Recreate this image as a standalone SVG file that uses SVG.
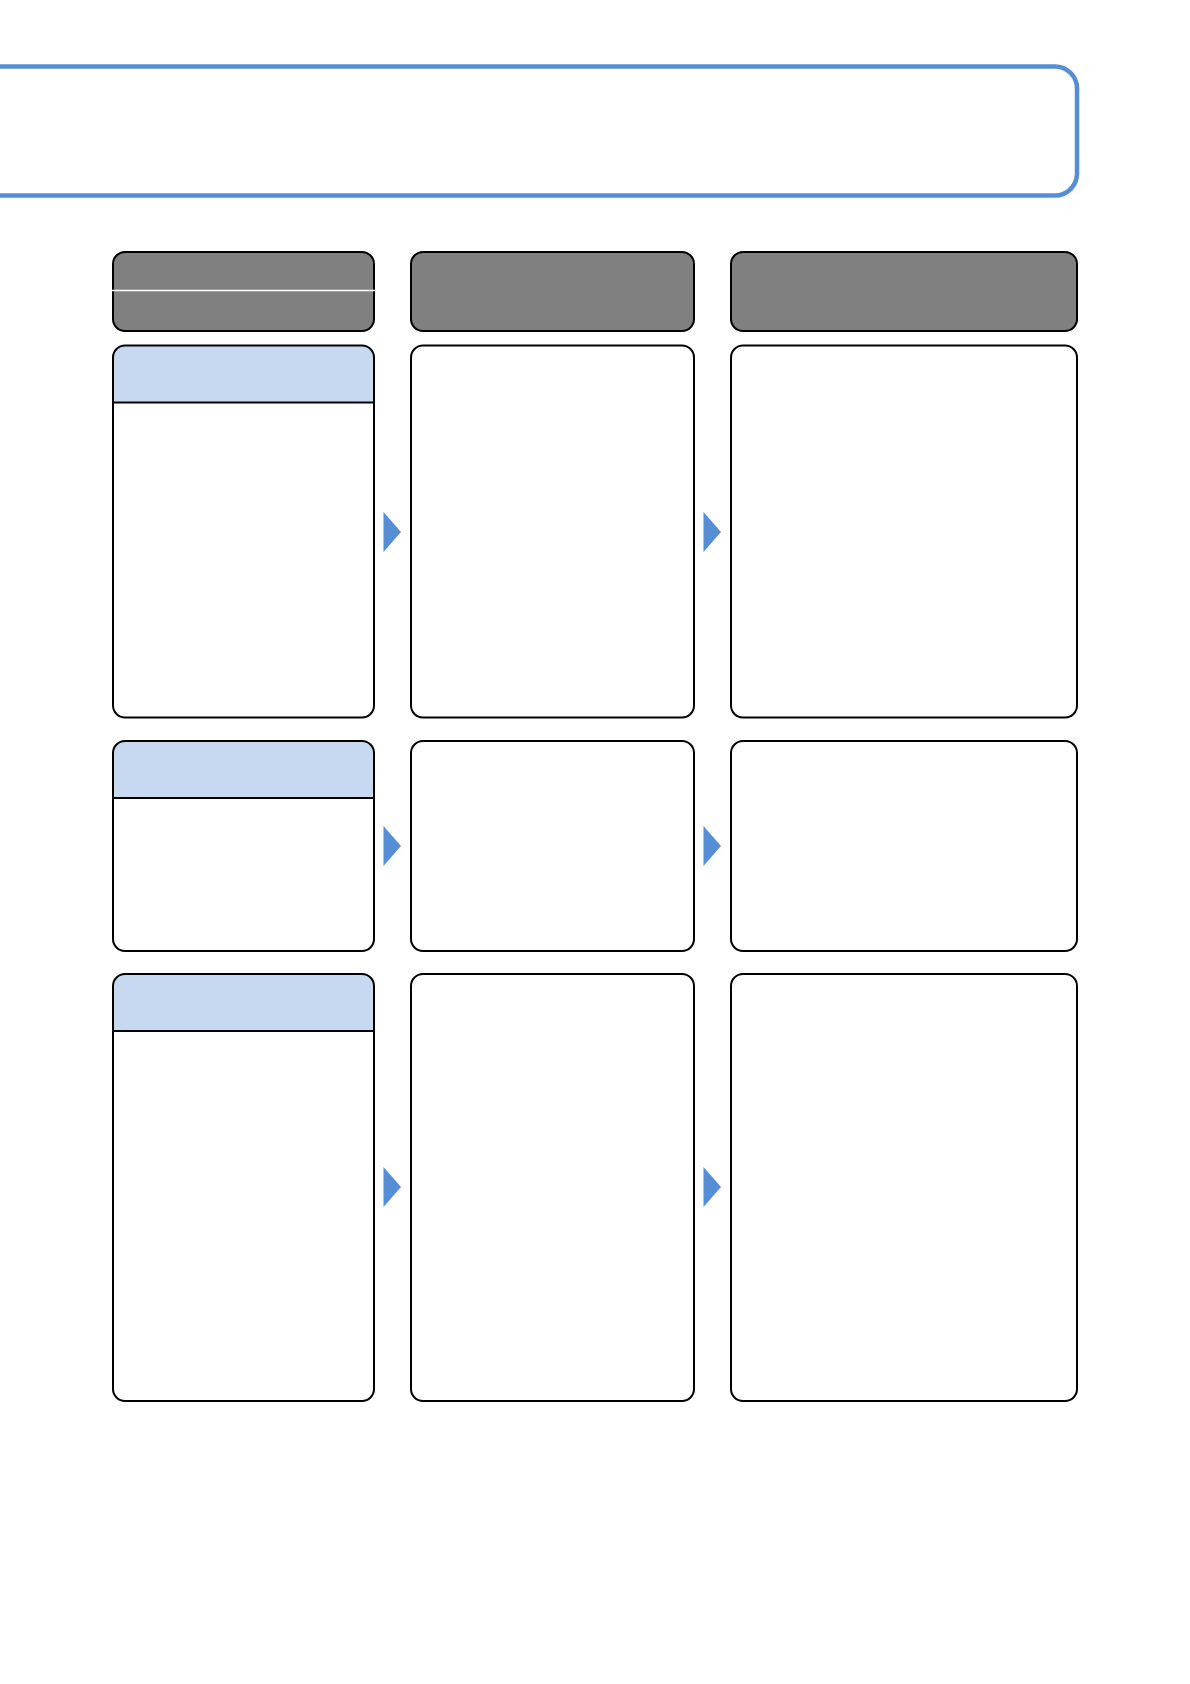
<svg xmlns="http://www.w3.org/2000/svg" width="1190" height="1684" viewBox="0 0 1190 1684">
  <style>
    .frame { fill: #ffffff; stroke: #558ED5; stroke-width: 4.5; }
    .hdr { fill: #808080; stroke: #000000; stroke-width: 2; }
    .box { fill: #ffffff; stroke: #000000; stroke-width: 2; }
    .band { fill: #C6D9F0; stroke: none; }
    .sep { stroke: #000000; stroke-width: 2; }
    .arrow { fill: #558ED5; stroke: none; }
  </style>
  <rect x="0" y="0" width="1190" height="1684" fill="#ffffff"/>
  <g id="title-frame">
    <rect class="frame" x="-40" y="66.5" width="1117" height="129" rx="22" ry="22"/>
  </g>
  <g id="header-col1">
    <rect class="hdr" x="113" y="252" width="261" height="79" rx="12" ry="12"/>
    <line x1="112" y1="290.5" x2="375" y2="290.5" stroke="#ffffff" stroke-width="1.3"/>
  </g>
  <g id="header-col2">
    <rect class="hdr" x="411" y="252" width="283" height="79" rx="12" ry="12"/>
  </g>
  <g id="header-col3">
    <rect class="hdr" x="731" y="252" width="346" height="79" rx="12" ry="12"/>
  </g>

  <g id="row1-col1">
    <path class="band" d="M113,402.5 V357.5 A12,12 0 0 1 125,345.5 H362 A12,12 0 0 1 374,357.5 V402.5 Z"/>
    <rect class="box" x="113" y="345.5" width="261" height="372" rx="12" ry="12" style="fill:none"/>
    <line class="sep" x1="113" y1="402.5" x2="374" y2="402.5"/>
  </g>
  <g id="row1-col2">
    <rect class="box" x="411" y="345.5" width="283" height="372" rx="12" ry="12"/>
  </g>
  <g id="row1-col3">
    <rect class="box" x="731" y="345.5" width="346" height="372" rx="12" ry="12"/>
  </g>

  <g id="row2-col1">
    <path class="band" d="M113,798 V753 A12,12 0 0 1 125,741 H362 A12,12 0 0 1 374,753 V798 Z"/>
    <rect class="box" x="113" y="741" width="261" height="210" rx="12" ry="12" style="fill:none"/>
    <line class="sep" x1="113" y1="798" x2="374" y2="798"/>
  </g>
  <g id="row2-col2">
    <rect class="box" x="411" y="741" width="283" height="210" rx="12" ry="12"/>
  </g>
  <g id="row2-col3">
    <rect class="box" x="731" y="741" width="346" height="210" rx="12" ry="12"/>
  </g>

  <g id="row3-col1">
    <path class="band" d="M113,1031 V986 A12,12 0 0 1 125,974 H362 A12,12 0 0 1 374,986 V1031 Z"/>
    <rect class="box" x="113" y="974" width="261" height="427" rx="12" ry="12" style="fill:none"/>
    <line class="sep" x1="113" y1="1031" x2="374" y2="1031"/>
  </g>
  <g id="row3-col2">
    <rect class="box" x="411" y="974" width="283" height="427" rx="12" ry="12"/>
  </g>
  <g id="row3-col3">
    <rect class="box" x="731" y="974" width="346" height="427" rx="12" ry="12"/>
  </g>

  <g id="connectors">
    <polygon class="arrow" points="383.5,512 401,532 383.5,552"/>
    <polygon class="arrow" points="703.5,512 721,532 703.5,552"/>
    <polygon class="arrow" points="383.5,826 401,846 383.5,866"/>
    <polygon class="arrow" points="703.5,826 721,846 703.5,866"/>
    <polygon class="arrow" points="383.5,1167 401,1187 383.5,1207"/>
    <polygon class="arrow" points="703.5,1167 721,1187 703.5,1207"/>
  </g>
</svg>
